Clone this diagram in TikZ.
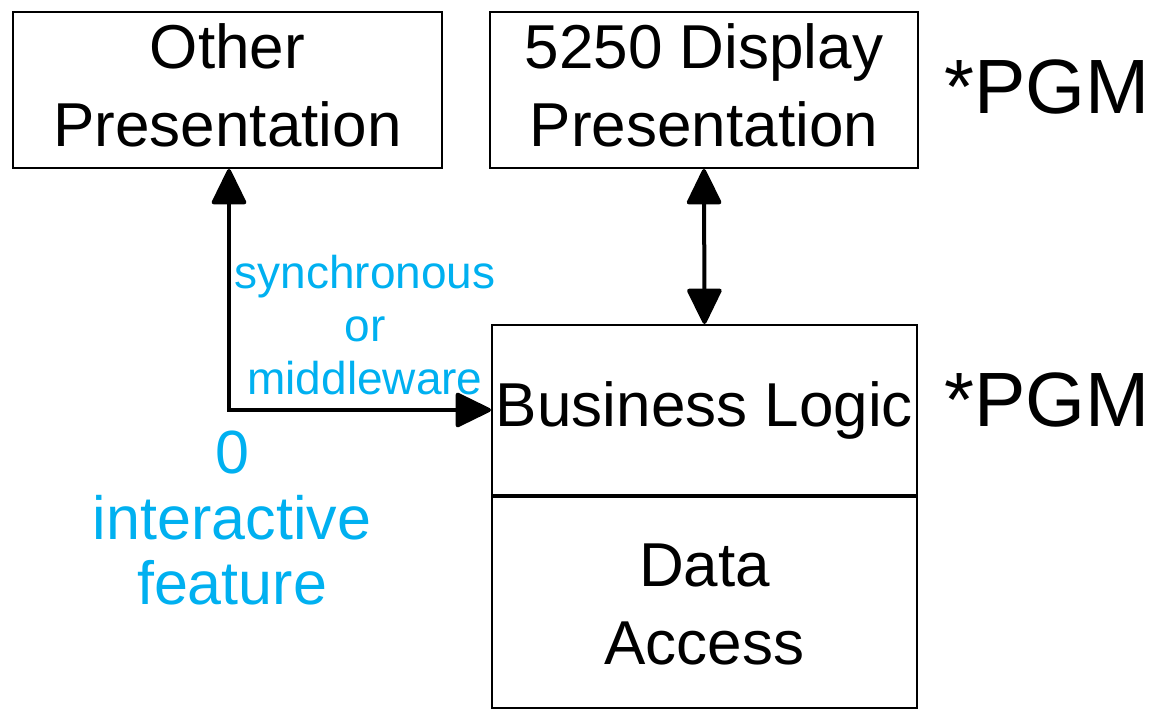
\documentclass[tikz,border=0pt]{standalone}
\usepackage{fontspec}
\setmainfont{Liberation Sans}
\usetikzlibrary{arrows.meta}
\definecolor{cyantext}{HTML}{00B0F0}
\tikzset{
  box/.style={draw=black, line width=2pt, inner sep=0pt, align=center, font=\fontsize{62}{78}\selectfont},
  lbl/.style={inner sep=0pt, align=center, font=\fontsize{62}{78}\selectfont},
  conn/.style={line width=4pt, {Triangle[length=38pt,width=36pt,round]}-{Triangle[length=38pt,width=36pt,round]}},
  pgm/.style={font=\fontsize{77}{80}\selectfont},
  note/.style={text=cyantext, align=center, inner sep=0pt}
}
\begin{document}
\begin{tikzpicture}[x=1pt,y=-1pt]
\useasboundingbox (0,0) rectangle (1163,711);
\node[box, minimum width=429pt, minimum height=156pt] (other) at (227.5,90) {};
\node[lbl] (otherlbl) at (227.5,85) {Other\\Presentation};
\node[box, minimum width=428pt, minimum height=156pt] (disp) at (704,90) {};
\node[lbl] (displbl) at (704,85) {5250 Display\\Presentation};
\node[box, minimum width=425pt, minimum height=170pt] (bl) at (704.5,410) {Business Logic};
\node[box, minimum width=425pt, minimum height=213pt] (da) at (704.5,601.5) {};
\node[lbl] (dalbl) at (704.5,604) {Data\\Access};
\draw[line width=4pt] (bl.south west) -- (bl.south east);
\node[pgm] (pgm1) at (1047,87) {*PGM};
\node[pgm] (pgm2) at (1047,400) {*PGM};
\coordinate (corner) at (229,410);
\draw[conn] (corner |- other.south) -- (corner) -- (bl.west);
\draw[conn] (disp.south) -- (bl.north);
\node[note, font=\fontsize{46}{53}\selectfont] (sync) at (365,325) {synchronous\\or\\middleware};
\node[note, font=\fontsize{61}{66}\selectfont] (zero) at (232,518) {0\\interactive\\feature};
\end{tikzpicture}
\end{document}
